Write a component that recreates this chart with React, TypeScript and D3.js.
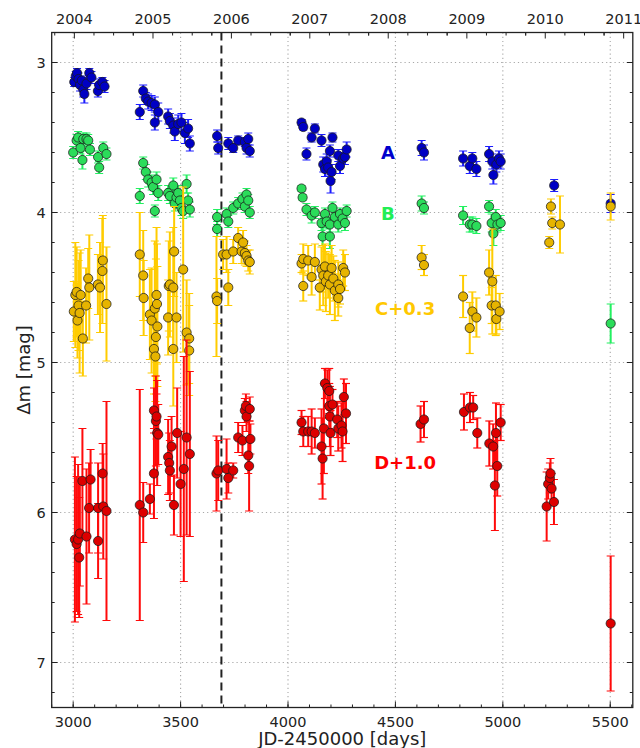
import * as d3 from "d3";

const W = 640;
const H = 748;
const plot = { left: 51.7, right: 632.8, top: 32.5, bottom: 707.5 };

const xDomain = [2900, 5605];
const yDomain = [2.8, 7.3];
const xTicks = [3000, 3500, 4000, 4500, 5000, 5500];
const yTicks = [3, 4, 5, 6, 7];
const years = [2004, 2005, 2006, 2007, 2008, 2009, 2010, 2011];
const yearJd = [3005.5, 3371.5, 3736.5, 4101.5, 4466.5, 4832.5, 5197.5, 5562.5];
const markerJd = 3690;

// [JD-2450000, delta mag, error]
type Pt = [number, number, number];

const seriesA: Pt[] = [
  [3005, 3.13, 0.03], [3012, 3.09, 0.03], [3018, 3.07, 0.03], [3025, 3.11, 0.04], [3032, 3.15, 0.04],
  [3040, 3.12, 0.03], [3047, 3.18, 0.05], [3052, 3.21, 0.06], [3062, 3.14, 0.04], [3075, 3.07, 0.03],
  [3085, 3.10, 0.04], [3115, 3.19, 0.04], [3121, 3.15, 0.04], [3136, 3.13, 0.03], [3146, 3.16, 0.04],
  [3310, 3.33, 0.05], [3326, 3.19, 0.04], [3338, 3.24, 0.04], [3349, 3.26, 0.05], [3365, 3.27, 0.05],
  [3380, 3.28, 0.05], [3380, 3.40, 0.05], [3396, 3.33, 0.06], [3442, 3.36, 0.05], [3450, 3.39, 0.05],
  [3466, 3.42, 0.05], [3473, 3.46, 0.06], [3489, 3.41, 0.06], [3504, 3.40, 0.06], [3520, 3.47, 0.07],
  [3535, 3.44, 0.06], [3543, 3.54, 0.05],
  [3670, 3.49, 0.04], [3675, 3.57, 0.04], [3722, 3.54, 0.04], [3745, 3.57, 0.03], [3768, 3.52, 0.03],
  [3799, 3.53, 0.03], [3807, 3.57, 0.04], [3815, 3.51, 0.04], [3822, 3.59, 0.04],
  [4063, 3.40, 0.02], [4071, 3.43, 0.02], [4086, 3.61, 0.04], [4110, 3.50, 0.03], [4125, 3.44, 0.03],
  [4156, 3.52, 0.04], [4164, 3.68, 0.05], [4172, 3.71, 0.05], [4180, 3.66, 0.05], [4187, 3.70, 0.05],
  [4195, 3.59, 0.04], [4198, 3.79, 0.08], [4207, 3.50, 0.03], [4203, 3.73, 0.05], [4234, 3.62, 0.04],
  [4242, 3.69, 0.05], [4257, 3.64, 0.04], [4265, 3.63, 0.05], [4273, 3.58, 0.05],
  [4622, 3.57, 0.05], [4633, 3.60, 0.05],
  [4815, 3.64, 0.05], [4846, 3.69, 0.05], [4858, 3.64, 0.04], [4877, 3.71, 0.05], [4936, 3.61, 0.05],
  [4951, 3.66, 0.05], [4956, 3.75, 0.06], [4970, 3.68, 0.05], [4982, 3.64, 0.05], [4990, 3.66, 0.05],
  [5239, 3.82, 0.04],
  [5502, 3.94, 0.06],
];

const seriesB: Pt[] = [
  [3000, 3.60, 0.04], [3016, 3.52, 0.04], [3023, 3.50, 0.04], [3034, 3.57, 0.04], [3047, 3.51, 0.04],
  [3043, 3.65, 0.06], [3062, 3.51, 0.04], [3070, 3.52, 0.04], [3078, 3.58, 0.04], [3116, 3.63, 0.04],
  [3121, 3.70, 0.04], [3140, 3.57, 0.04], [3155, 3.61, 0.04],
  [3310, 3.89, 0.05], [3326, 3.67, 0.04], [3338, 3.73, 0.05], [3349, 3.78, 0.05], [3365, 3.80, 0.05],
  [3372, 3.83, 0.05], [3380, 3.99, 0.04], [3388, 3.78, 0.05], [3396, 3.87, 0.05], [3442, 3.87, 0.05],
  [3450, 3.89, 0.05], [3466, 3.82, 0.05], [3473, 3.94, 0.05], [3481, 3.90, 0.05], [3489, 3.87, 0.05],
  [3497, 3.92, 0.05], [3504, 3.97, 0.05], [3512, 3.99, 0.05], [3528, 3.81, 0.06], [3535, 3.92, 0.05],
  [3543, 3.98, 0.05],
  [3670, 4.03, 0.05], [3670, 4.11, 0.05], [3714, 4.01, 0.04], [3722, 4.06, 0.04], [3745, 3.97, 0.04],
  [3768, 3.94, 0.04], [3788, 3.91, 0.04], [3799, 3.96, 0.04], [3807, 3.88, 0.04], [3815, 3.92, 0.04],
  [3822, 4.00, 0.04],
  [4063, 3.84, 0.02], [4068, 3.90, 0.02], [4086, 3.98, 0.04], [4110, 4.02, 0.05], [4125, 4.00, 0.04],
  [4156, 4.07, 0.05], [4161, 4.16, 0.06], [4172, 4.01, 0.04], [4180, 4.06, 0.05], [4195, 4.08, 0.05],
  [4195, 4.16, 0.08], [4207, 3.97, 0.04], [4218, 4.03, 0.04], [4234, 4.08, 0.05], [4242, 4.01, 0.04],
  [4254, 4.04, 0.04], [4265, 4.07, 0.05], [4273, 3.99, 0.04],
  [4622, 3.94, 0.05], [4633, 3.97, 0.04],
  [4815, 4.02, 0.06], [4846, 4.08, 0.05], [4858, 4.08, 0.05], [4877, 4.09, 0.05], [4936, 3.96, 0.04],
  [4948, 4.07, 0.06], [4956, 4.14, 0.08], [4967, 4.03, 0.05], [4975, 4.08, 0.05], [4990, 4.07, 0.05],
  [5502, 4.74, 0.13],
];

const seriesC: Pt[] = [
  [3003, 4.66, 0.2], [3010, 4.55, 0.35], [3016, 4.53, 0.3], [3020, 4.72, 0.25], [3025, 4.62, 0.3],
  [3030, 4.67, 0.4], [3035, 4.55, 0.3], [3045, 4.84, 0.25], [3060, 4.62, 0.25], [3070, 4.44, 0.2],
  [3075, 4.50, 0.35], [3115, 4.48, 0.2], [3125, 4.50, 0.3], [3136, 4.39, 0.35], [3138, 4.32, 0.3],
  [3155, 4.61, 0.38],
  [3310, 4.28, 0.28], [3326, 4.42, 0.3], [3328, 4.57, 0.25], [3357, 4.68, 0.3], [3365, 4.72, 0.35],
  [3376, 4.91, 0.3], [3380, 4.64, 0.45], [3383, 4.96, 0.3], [3385, 4.83, 0.52], [3388, 4.55, 0.45],
  [3390, 4.61, 0.4], [3392, 4.76, 0.4], [3442, 4.70, 0.25], [3445, 4.49, 0.3], [3450, 4.48, 0.35],
  [3466, 4.50, 0.4], [3470, 4.26, 0.3], [3466, 4.91, 0.38], [3481, 4.70, 0.3], [3512, 4.38, 0.55],
  [3528, 4.80, 0.35], [3540, 4.84, 0.3], [3540, 4.92, 0.3],
  [3667, 4.56, 0.4], [3670, 4.59, 0.15], [3698, 4.28, 0.1], [3714, 4.28, 0.12], [3722, 4.50, 0.12],
  [3745, 4.26, 0.08], [3768, 4.17, 0.07], [3784, 4.26, 0.08], [3791, 4.20, 0.08], [3799, 4.27, 0.08],
  [3807, 4.29, 0.07], [3815, 4.32, 0.07], [3822, 4.33, 0.08],
  [4063, 4.34, 0.06], [4071, 4.49, 0.1], [4071, 4.31, 0.1], [4094, 4.32, 0.1], [4110, 4.43, 0.12],
  [4125, 4.33, 0.12], [4148, 4.50, 0.15], [4156, 4.38, 0.15], [4164, 4.42, 0.2], [4172, 4.36, 0.15],
  [4176, 4.46, 0.2], [4187, 4.42, 0.15], [4195, 4.48, 0.2], [4203, 4.37, 0.15], [4211, 4.44, 0.15],
  [4218, 4.52, 0.2], [4234, 4.48, 0.15], [4242, 4.51, 0.1], [4257, 4.37, 0.12], [4265, 4.40, 0.12],
  [4234, 4.57, 0.12],
  [4622, 4.30, 0.08], [4633, 4.35, 0.07],
  [4815, 4.56, 0.14], [4846, 4.77, 0.17], [4858, 4.66, 0.13], [4877, 4.70, 0.13], [4936, 4.40, 0.15],
  [4951, 4.46, 0.35], [4948, 4.62, 0.12], [4967, 4.62, 0.2], [4970, 4.71, 0.1], [4985, 4.66, 0.12],
  [5224, 3.96, 0.05], [5216, 4.20, 0.04], [5230, 4.07, 0.04], [5266, 4.08, 0.19],
  [5502, 3.96, 0.09],
];

const seriesD: Pt[] = [
  [3008, 6.18, 0.55], [3016, 6.21, 0.45], [3023, 6.18, 0.5], [3028, 6.30, 0.4], [3031, 6.14, 0.35],
  [3043, 5.79, 0.35], [3062, 6.16, 0.45], [3074, 5.97, 0.3], [3081, 5.78, 0.2], [3116, 6.19, 0.25],
  [3116, 5.97, 0.3], [3137, 5.74, 0.2], [3140, 5.96, 0.35], [3155, 5.99, 0.73],
  [3310, 5.95, 0.77], [3326, 6.00, 0.2], [3357, 5.91, 0.1], [3376, 5.74, 0.3], [3376, 5.32, 0.15],
  [3385, 5.39, 0.3], [3388, 5.36, 0.15], [3391, 5.47, 0.35], [3396, 5.48, 0.2], [3442, 5.63, 0.25],
  [3447, 5.67, 0.2], [3450, 5.72, 0.2], [3458, 5.56, 0.2], [3469, 5.95, 0.2], [3484, 5.47, 0.3],
  [3500, 5.81, 0.35], [3515, 5.71, 0.75], [3528, 5.50, 0.65], [3543, 5.61, 0.55],
  [3667, 5.74, 0.25], [3675, 5.72, 0.2], [3714, 5.71, 0.2], [3722, 5.77, 0.1], [3745, 5.72, 0.05],
  [3768, 5.50, 0.1], [3788, 5.52, 0.1], [3799, 5.32, 0.08], [3804, 5.29, 0.08], [3807, 5.36, 0.1],
  [3815, 5.62, 0.12], [3819, 5.69, 0.3], [3822, 5.31, 0.08], [3825, 5.51, 0.1],
  [4063, 5.40, 0.08], [4071, 5.46, 0.1], [4094, 5.46, 0.1], [4110, 5.46, 0.15], [4125, 5.47, 0.1],
  [4156, 5.56, 0.25], [4161, 5.64, 0.27], [4167, 5.44, 0.3], [4172, 5.14, 0.1], [4183, 5.17, 0.12],
  [4192, 5.19, 0.15], [4192, 5.29, 0.15], [4195, 5.36, 0.2], [4198, 5.47, 0.15], [4207, 5.28, 0.1],
  [4229, 5.38, 0.12], [4234, 5.44, 0.15], [4249, 5.42, 0.15], [4254, 5.46, 0.2], [4260, 5.23, 0.12],
  [4270, 5.34, 0.2],
  [4617, 5.41, 0.12], [4633, 5.38, 0.12],
  [4819, 5.33, 0.12], [4847, 5.30, 0.1], [4862, 5.30, 0.08], [4881, 5.47, 0.1], [4937, 5.54, 0.15],
  [4955, 5.56, 0.15], [4963, 5.82, 0.3], [4968, 5.47, 0.2], [4974, 5.69, 0.2], [4990, 5.40, 0.12],
  [5204, 5.96, 0.23], [5211, 5.81, 0.1], [5219, 5.77, 0.1], [5222, 5.74, 0.1], [5227, 5.84, 0.1],
  [5238, 5.93, 0.15],
  [5502, 6.74, 0.45],
];

const seriesNames = ["A", "B", "C+0.3", "D+1.0"];
const labelJd = [4465, 4465, 4545, 4545];
const labelMag = [3.6, 4.01, 4.64, 5.67];

const styles = [
  { bar: "#1c1cff", fill: "#0000c4", text: "#0000cc" },
  { bar: "#22f060", fill: "#2bdc5a", text: "#22ee55" },
  { bar: "#ffcc00", fill: "#e6b400", text: "#ffc800" },
  { bar: "#ff0a0a", fill: "#dd0000", text: "#ff0000" },
];

const font = "'DejaVu Sans', sans-serif";

export default function App() {
  const x = d3.scaleLinear().domain(xDomain).range([plot.left, plot.right]);
  const y = d3.scaleLinear().domain(yDomain).range([plot.top, plot.bottom]);
  const all = [seriesA, seriesB, seriesC, seriesD];

  const xMinor = d3.range(2900, 5601, 100);
  const yMinor = d3.range(2.8, 7.31, 0.2);
  const topMinor: number[] = [];
  yearJd.forEach((jd) => {
    for (let q = 1; q < 4; q++) topMinor.push(jd + (q * 365.25) / 4);
    topMinor.push(jd - 365.25 / 4);
  });

  const cap = 4;
  return (
    <svg width={W} height={H} style={{ position: "absolute", left: 0, top: 0, background: "#fff" }} fontFamily={font}>
      <defs>
        <clipPath id="plotclip">
          <rect x={plot.left} y={plot.top} width={plot.right - plot.left} height={plot.bottom - plot.top} />
        </clipPath>
      </defs>

      {/* grid */}
      <g stroke="#a8a8a8" strokeWidth={1.1} strokeDasharray="1.2,3">
        {xTicks.map((t) => (
          <line key={"gx" + t} x1={x(t)} x2={x(t)} y1={plot.top} y2={plot.bottom} />
        ))}
        {yTicks.map((t) => (
          <line key={"gy" + t} x1={plot.left} x2={plot.right} y1={y(t)} y2={y(t)} />
        ))}
      </g>

      {/* season marker */}
      <line x1={x(markerJd)} x2={x(markerJd)} y1={plot.top} y2={plot.bottom} stroke="#222" strokeWidth={2} strokeDasharray="8,5" />

      <g clipPath="url(#plotclip)">
        {all.map((data, si) => (
          <g key={"s" + si}>
            <g stroke={styles[si].bar} strokeWidth={2}>
              {data.map((d, i) => {
                const cx = x(d[0]);
                const y1 = y(d[1] - d[2]);
                const y2 = y(d[1] + d[2]);
                return (
                  <g key={i}>
                    <line x1={cx} x2={cx} y1={y1} y2={y2} />
                    <line x1={cx - cap} x2={cx + cap} y1={y1} y2={y1} strokeWidth={1.2} />
                    <line x1={cx - cap} x2={cx + cap} y1={y2} y2={y2} strokeWidth={1.2} />
                  </g>
                );
              })}
            </g>
            <g fill={styles[si].fill} stroke="#1a1a1a" strokeOpacity={0.75} strokeWidth={1}>
              {data.map((d, i) => (
                <circle key={i} cx={x(d[0])} cy={y(d[1])} r={4.6} />
              ))}
            </g>
          </g>
        ))}
      </g>

      {/* series labels */}
      {seriesNames.map((n, i) => (
        <text
          key={n}
          x={x(labelJd[i])}
          y={y(labelMag[i])}
          dy="0.36em"
          textAnchor="middle"
          fontSize={18}
          fontWeight="bold"
          fill={styles[i].text}
        >
          {n}
        </text>
      ))}

      {/* ticks */}
      <g stroke="#222" strokeWidth={1}>
        {xTicks.map((t) => (
          <line key={"bt" + t} x1={x(t)} x2={x(t)} y1={plot.bottom} y2={plot.bottom - 6} />
        ))}
        {xMinor.map((t) => (
          <line key={"bm" + t} x1={x(t)} x2={x(t)} y1={plot.bottom} y2={plot.bottom - 3} />
        ))}
        {yearJd.map((t) => (
          <line key={"tt" + t} x1={x(t)} x2={x(t)} y1={plot.top} y2={plot.top + 6} />
        ))}
        {topMinor
          .filter((t) => t > xDomain[0] && t < xDomain[1])
          .map((t) => (
            <line key={"tm" + t} x1={x(t)} x2={x(t)} y1={plot.top} y2={plot.top + 3} />
          ))}
        {yTicks.map((t) => (
          <g key={"yt" + t}>
            <line x1={plot.left} x2={plot.left + 6} y1={y(t)} y2={y(t)} />
            <line x1={plot.right} x2={plot.right - 6} y1={y(t)} y2={y(t)} />
          </g>
        ))}
        {yMinor.map((t) => (
          <g key={"ym" + t}>
            <line x1={plot.left} x2={plot.left + 3} y1={y(t)} y2={y(t)} />
            <line x1={plot.right} x2={plot.right - 3} y1={y(t)} y2={y(t)} />
          </g>
        ))}
      </g>

      {/* frame */}
      <rect
        x={plot.left}
        y={plot.top}
        width={plot.right - plot.left}
        height={plot.bottom - plot.top}
        fill="none"
        stroke="#222"
        strokeWidth={1.3}
      />

      {/* tick labels */}
      <g fontSize={14.5} fill="#222">
        {xTicks.map((t) => (
          <text key={"xl" + t} x={x(t)} y={plot.bottom + 19} textAnchor="middle">
            {t}
          </text>
        ))}
        {years.map((yr, i) => (
          <text key={"yr" + yr} x={x(yearJd[i])} y={plot.top - 9} textAnchor="middle">
            {yr}
          </text>
        ))}
        {yTicks.map((t) => (
          <text key={"yl" + t} x={plot.left - 6} y={y(t)} dy="0.36em" textAnchor="end">
            {t}
          </text>
        ))}
      </g>

      {/* axis titles */}
      <text x={(plot.left + plot.right) / 2} y={745} textAnchor="middle" fontSize={18} fill="#222">
        JD-2450000 [days]
      </text>
      <text
        transform={`translate(${30}, ${(plot.top + plot.bottom) / 2}) rotate(-90)`}
        textAnchor="middle"
        fontSize={18}
        fill="#222"
      >
        Δm [mag]
      </text>
    </svg>
  );
}
